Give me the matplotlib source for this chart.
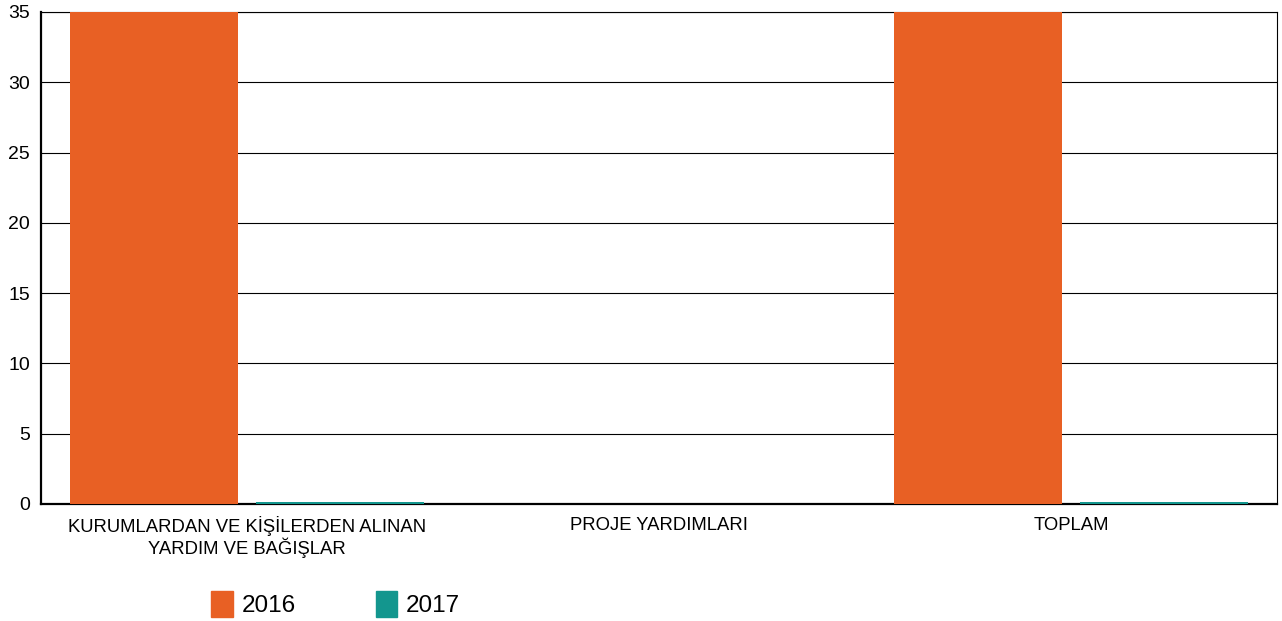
import numpy as np
import matplotlib.pyplot as plt
from matplotlib.patches import Patch

plt.rcParams['font.family'] = ['Liberation Sans', 'DejaVu Sans']

categories = ['KURUMLARDAN VE KİŞİLERDEN ALINAN\nYARDIM VE BAĞIŞLAR', 'PROJE YARDIMLARI', 'TOPLAM']
years = ['2016', '2017']
vals_2016 = [36.0, 0.0, 36.0]
vals_2017 = [0.15, 0.0, 0.15]
colors = ['#E86024', '#13968E']

fig = plt.figure(figsize=(12.82, 6.21), dpi=100)
ax = fig.add_axes([41/1282, 117/621, 1236/1282, 492/621])

x = np.arange(len(categories))
w = 0.406
ax.bar(x - 0.226, vals_2016, w, color=colors[0], zorder=3)
ax.bar(x + 0.226, vals_2017, w, color=colors[1], zorder=3)

ax.set_xlim(-0.5, 2.5)
ax.set_ylim(0, 35)
ax.set_yticks(np.arange(0, 36, 5))
ax.yaxis.grid(True, color='black', linewidth=0.8, zorder=0)
ax.set_axisbelow(True)
ax.set_xticks(x)
ax.set_xticklabels(categories, fontsize=13.3, linespacing=1.05)
ax.tick_params(axis='both', length=0)
ax.tick_params(axis='y', labelsize=14, pad=8)
ax.tick_params(axis='x', pad=9)
for s in ['left', 'bottom']:
    ax.spines[s].set_linewidth(1.6)
for s in ['top', 'right']:
    ax.spines[s].set_linewidth(0.8)

handles = [Patch(color=c) for c in colors]
fig.legend(handles, years, loc='center left', bbox_to_anchor=(189/1282, 17/621),
           ncol=2, frameon=False, fontsize=17.5, handlelength=0.9, handleheight=1.3,
           handletextpad=0.35, columnspacing=3.3)

fig.savefig('out.png', dpi=100)
